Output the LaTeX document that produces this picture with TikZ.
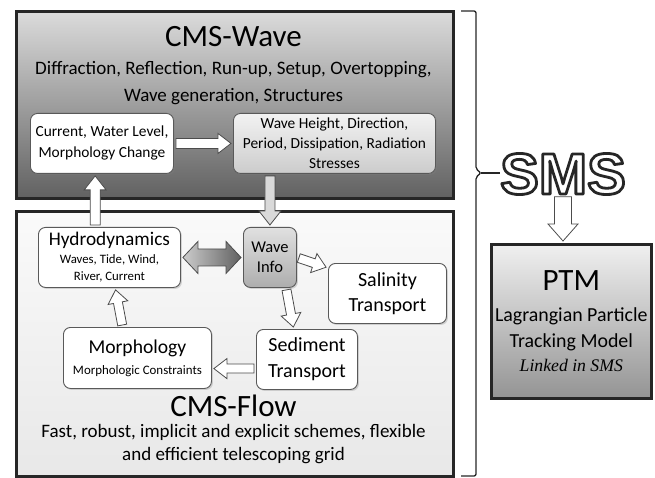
\documentclass[tikz,border=0pt]{standalone}
\usepackage{fontspec}
\setmainfont{Carlito}
\newfontfamily\smsfont{Liberation Sans}
\newfontfamily\serifit{Liberation Serif}
\usetikzlibrary{calc,shadows}

\tikzset{
  panel/.style={draw=black!85,line width=2.6pt,anchor=north west,drop shadow={opacity=0.35,shadow xshift=2pt,shadow yshift=-2pt}},
  inbox/.style={draw=black!65,line width=0.9pt,rounded corners=7pt,fill=white,align=center,inner sep=1pt,anchor=north west,drop shadow={opacity=0.3,shadow xshift=1.5pt,shadow yshift=-1.5pt}},
  blk/.style={draw=black!70,line width=0.8pt,fill=white,line join=miter},
  title/.style={inner sep=0pt,font=\fontsize{31}{34}\selectfont},
  desc/.style={inner sep=0pt,align=center},
}

% arrow sizes: half shaft, half head, head length
\def\aw{5pt}\def\ah{10pt}\def\al{13pt}
\newcommand{\arrsize}[3]{\def\aw{#1}\def\ah{#2}\def\al{#3}}

\newcommand{\blkarrow}[3][]{%
  \coordinate (ba) at ($(#2)!2pt!(#3)$);
  \coordinate (bb) at ($(#3)!2pt!(#2)$);
  \coordinate (bh) at ($(bb)!\al!(ba)$);
  \path[blk,#1] ($(ba)!\aw!90:(bb)$) -- ($(bh)!\aw!90:(bb)$) -- ($(bh)!\ah!90:(bb)$) -- (bb)
    -- ($(bh)!\ah!-90:(bb)$) -- ($(bh)!\aw!-90:(bb)$) -- ($(ba)!\aw!-90:(bb)$) -- cycle;
}
\newcommand{\dblarrow}[3][]{%
  \coordinate (ba) at ($(#2)!2pt!(#3)$);
  \coordinate (bb) at ($(#3)!2pt!(#2)$);
  \coordinate (bh1) at ($(ba)!\al!(bb)$);
  \coordinate (bh2) at ($(bb)!\al!(ba)$);
  \path[blk,#1] (ba) -- ($(bh1)!\ah!90:(bb)$) -- ($(bh1)!\aw!90:(bb)$) -- ($(bh2)!\aw!90:(bb)$)
    -- ($(bh2)!\ah!90:(bb)$) -- (bb) -- ($(bh2)!\ah!-90:(bb)$) -- ($(bh2)!\aw!-90:(bb)$)
    -- ($(bh1)!\aw!-90:(bb)$) -- ($(bh1)!\ah!-90:(bb)$) -- cycle;
}

\begin{document}
\begin{tikzpicture}[x=1pt,y=-1pt]
\useasboundingbox (0,0) rectangle (655,478);

% panels
\node[panel,top color=black!14,bottom color=black!62,minimum width=437pt,minimum height=187pt] (wave) at (15,10) {};
\node[panel,top color=black!2,bottom color=black!9,minimum width=437pt,minimum height=265pt] (flow) at (15,210) {};
\node[panel,top color=black!6,bottom color=black!42,minimum width=160pt,minimum height=154pt,align=center,font=\fontsize{19.9}{26}\selectfont] (ptm) at (490,243)
  {\fontsize{31}{34}\selectfont PTM\\[5pt]Lagrangian Particle\\Tracking Model\\[-2pt]\serifit\itshape\fontsize{17.7}{20}\selectfont Linked in SMS};

% texts of the panels
\node[title] (wtitle) at (233.5,37) {CMS-Wave};
\node[desc,font=\fontsize{19}{27}\selectfont] (wdesc) at (233.5,83.5) {Diffraction, Reflection, Run-up, Setup, Overtopping,\\Wave generation, Structures};
\node[title] (ftitle) at (233.5,405.5) {CMS-Flow};
\node[desc,font=\fontsize{19}{23}\selectfont] (fdesc) at (233.5,444.5) {Fast, robust, implicit and explicit schemes, flexible\\and efficient telescoping grid};

% inner boxes
\node[inbox,minimum width=143pt,minimum height=60pt,font=\fontsize{15.4}{21}\selectfont] (cur) at (30,113) {Current, Water Level,\\Morphology Change};
\node[inbox,top color=black!5,bottom color=black!20,minimum width=202pt,minimum height=60pt,font=\fontsize{15.4}{20}\selectfont] (wh) at (233,113) {Wave Height, Direction,\\Period, Dissipation, Radiation\\Stresses};
\node[inbox,minimum width=142pt,minimum height=60pt,font=\fontsize{12.8}{17}\selectfont] (hyd) at (38,227) {\fontsize{19.3}{20}\selectfont Hydrodynamics\\[1pt]Waves, Tide, Wind,\\River, Current};
\node[inbox,top color=black!12,bottom color=black!32,minimum width=53pt,minimum height=60pt,font=\fontsize{16.5}{20}\selectfont] (info) at (243,227) {Wave\\Info};
\node[inbox,minimum width=118pt,minimum height=60pt,font=\fontsize{20}{25}\selectfont] (sal) at (328,263) {Salinity\\Transport};
\node[inbox,minimum width=101pt,minimum height=60pt,font=\fontsize{20}{26}\selectfont] (sed) at (256,329) {Sediment\\Transport};
\node[inbox,minimum width=148pt,minimum height=61pt,font=\fontsize{12.9}{21}\selectfont] (mor) at (63,327) {\fontsize{19.6}{20}\selectfont Morphology\\Morphologic Constraints};

% SMS, white letters with a dark outline
\node[inner sep=0pt,font=\smsfont\bfseries\fontsize{58}{60}\selectfont] (sms) at (563,174)
  {\color{white}\special{pdf:code q 0.15 G 2.8 w 1 j 2 Tr}SMS\special{pdf:code Q}};

% brace
\coordinate (btip) at (481,173);
\draw[black!85,line width=1.3pt,rounded corners=2pt] (461,11) -- (476,11) -- (476,169) -- (btip) -- (476,177) -- (476,476) -- (461,476);
\draw[black!85,line width=1.3pt] (btip) -- (btip -| sms.west);

% arrow ends
\coordinate (hydtop) at ($(hyd.north west)!0.4!(hyd.north east)$);
\coordinate (curbot) at (hydtop |- cur.south);
\coordinate (saltop) at ($(sal.north west)!0.08!(sal.south west)$);
\coordinate (infobot) at ($(info.south west)!0.8!(info.south east)$);
\coordinate (sedtop) at ($(sed.north west)!0.37!(sed.north east)$);
\coordinate (sedleft) at ($(sed.west)!0.3!(sed.south west)$);
\coordinate (morright) at (sedleft -| mor.east);
\coordinate (mortop) at ($(mor.north west)!0.4!(mor.north east)$);
\coordinate (hydbot) at ($(hyd.south west)!0.54!(hyd.south east)$);
\coordinate (whbot) at (info.north |- wh.south);
\coordinate (ptmtop) at (sms.south |- ptm.north);

% block arrows
\blkarrow{cur.east}{wh.west}
\arrsize{5pt}{11pt}{14pt}
\blkarrow[fill=black!15]{whbot}{info.north}
\blkarrow{hydtop}{curbot}
\arrsize{4.5pt}{10pt}{13pt}
\blkarrow{info.east}{saltop}
\blkarrow{infobot}{sedtop}
\blkarrow{sedleft}{morright}
\blkarrow{mortop}{hydbot}
\arrsize{8.5pt}{16pt}{15pt}
\dblarrow[left color=black!20,right color=black!62]{hyd.east}{info.west}
\arrsize{8.5pt}{15pt}{17pt}
\blkarrow{sms.south}{ptmtop}
\end{tikzpicture}
\end{document}
